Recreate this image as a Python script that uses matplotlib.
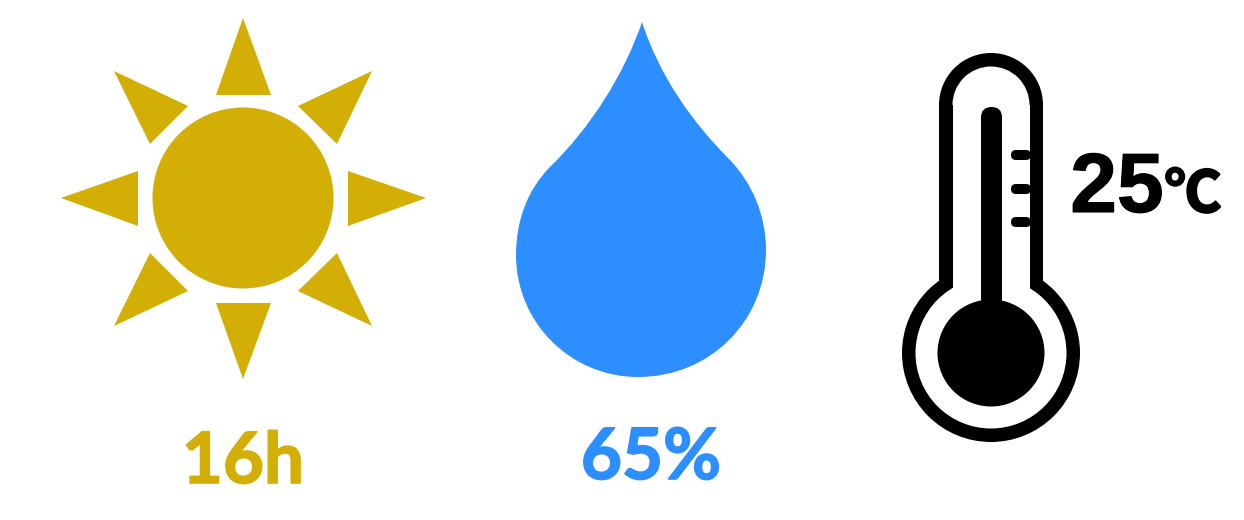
# weather summary icons: sunshine, humidity, temperature
import matplotlib
matplotlib.use("Agg")
import matplotlib.pyplot as plt
import matplotlib.patheffects as pe
from matplotlib.patches import Circle, Polygon, PathPatch, Rectangle, Wedge, FancyBboxPatch
from matplotlib.path import Path

sun_hours = 16
humidity = 65
temperature = 25

sun_color = "#D3AE05"
drop_color = "#2D8FFF"

fig = plt.figure(figsize=(12.44, 5.2), dpi=100)
ax = fig.add_axes([0, 0, 1, 1])
ax.set_xlim(0, 1244)
ax.set_ylim(520, 0)
ax.axis("off")

# sun
ax.add_patch(Circle((243, 198), 90.5, color=sun_color, lw=0))
rays = [
    [(243, 18), (216, 95), (271, 95)],
    [(243, 379), (216, 303), (271, 303)],
    [(61, 198), (138, 171), (138, 226)],
    [(426, 198), (348, 171), (348, 226)],
    [(372, 71), (298, 106), (337, 144)],
    [(114, 71), (188, 106), (150, 144)],
    [(372, 326), (337, 253), (298, 291)],
    [(114, 326), (150, 253), (188, 291)],
]
for ray in rays:
    ax.add_patch(Polygon(ray, closed=True, color=sun_color, lw=0))

# drop
verts = [
    (642, 22),
    (624, 75), (590, 128), (550, 167),
    (528, 189), (516, 220), (516, 255),
    (516, 323), (571, 377), (638, 377),
    (711, 377), (766, 320), (766, 250),
    (766, 215), (752, 183), (730, 160),
    (692, 122), (660, 77), (642, 22),
]
codes = [Path.MOVETO] + [Path.CURVE4] * 18
ax.add_patch(PathPatch(Path(verts, codes), color=drop_color, lw=0))

# thermometer, black shape with white inside
ax.add_patch(Circle((991, 353), 89, color="black", lw=0))
ax.add_patch(Rectangle((939, 105), 104, 190, color="black", lw=0))
ax.add_patch(Wedge((991, 105), 52, 180, 360, color="black", lw=0))
ax.add_patch(Circle((991, 353), 75.5, color="white", lw=0))
ax.add_patch(Rectangle((952.5, 105), 77, 195, color="white", lw=0))
ax.add_patch(Wedge((991, 105), 38.5, 180, 360, color="white", lw=0))
ax.add_patch(Circle((991, 353), 53.5, color="black", lw=0))
ax.add_patch(FancyBboxPatch((981, 107), 21, 210, boxstyle="round,pad=0,rounding_size=10.5",
                            color="black", lw=0))
for y in [155, 189, 222]:
    ax.add_patch(FancyBboxPatch((1011, y - 5), 20, 10, boxstyle="round,pad=0,rounding_size=5",
                                color="black", lw=0))

# labels, a thin outline makes the bold as heavy as in the picture
t1 = ax.text(243, 483, f"{sun_hours}h", color=sun_color, fontsize=51, fontweight="bold",
             family="Lato", ha="center", va="baseline")
t2 = ax.text(651, 479, f"{humidity}%", color=drop_color, fontsize=51, fontweight="bold",
             family="Lato", ha="center", va="baseline")
t1.set_path_effects([pe.withStroke(linewidth=1.2, foreground=sun_color)])
t2.set_path_effects([pe.withStroke(linewidth=1.2, foreground=drop_color)])
t4 = ax.text(1117, 212, f"{temperature}", color="black", fontsize=60.5, fontweight="bold",
             family="Liberation Sans", ha="center", va="baseline")
t4.set_path_effects([pe.withStroke(linewidth=0.8, foreground="black")])
t3 = ax.text(1193, 212, "℃", color="black", fontsize=41, fontweight="bold",
             family=["Noto Sans CJK JP", "DejaVu Sans"], ha="center", va="baseline")
t3.set_path_effects([pe.withStroke(linewidth=1.5, foreground="black")])

fig.savefig("out.png", dpi=100, facecolor="white")
